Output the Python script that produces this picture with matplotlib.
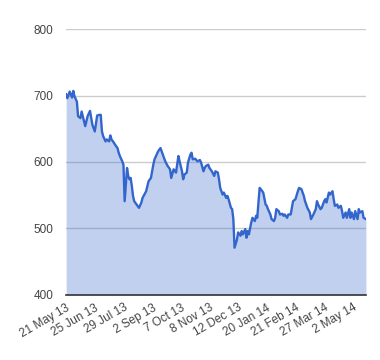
import matplotlib
matplotlib.use("Agg")
import matplotlib.pyplot as plt

# trading-day index (0 = 21 May 13) and closing value
day = [0, 1, 3, 5, 6, 7, 9, 10, 12, 13, 15, 16, 18, 20, 21, 22, 24, 26, 28, 29,
       30, 31, 33, 34, 36, 37, 38, 40, 41, 43, 44, 45, 47, 48, 49, 50, 51, 52, 53, 54,
       55, 56, 57, 59, 61, 63, 64, 67, 69, 71, 73, 74, 77, 79, 81, 83, 85, 87, 88, 90,
       92, 94, 95, 97, 98, 99, 101, 102, 104, 105, 106, 108, 110, 112, 113, 115, 116, 117, 119, 120,
       122, 124, 125, 127, 128, 129, 131, 132, 134, 135, 136, 138, 139, 140, 141, 143, 144, 146, 147, 148,
       150, 151, 152, 153, 155, 156, 158, 159, 160, 162, 163, 165, 167, 168, 169, 171, 172, 174, 175, 176,
       178, 179, 181, 182, 183, 185, 186, 188, 190, 192, 194, 195, 197, 199, 200, 202, 204, 205, 207, 209,
       210, 211, 213, 214, 216, 217, 218, 220, 221, 223, 224, 225, 227, 228, 230, 231, 232, 234, 235, 237,
       238, 239, 241, 242, 244, 245, 246, 248, 249, 251]
price = [702, 696, 706, 697, 707, 699, 691, 669, 666, 676, 661, 654, 669, 677, 666, 656, 646, 670, 671, 671,
         646, 639, 631, 634, 631, 640, 634, 629, 626, 621, 614, 609, 601, 596, 541, 566, 591, 579, 574, 576,
         564, 549, 541, 536, 531, 539, 546, 556, 571, 576, 596, 604, 616, 621, 611, 601, 594, 589, 576, 589,
         584, 609, 601, 586, 574, 581, 584, 599, 611, 614, 604, 605, 601, 603, 599, 586, 591, 594, 596, 591,
         586, 579, 586, 584, 574, 561, 551, 554, 546, 549, 544, 531, 529, 514, 471, 483, 494, 489, 496, 491,
         499, 486, 496, 491, 509, 516, 511, 519, 516, 561, 559, 554, 536, 534, 529, 521, 514, 511, 516, 529,
         526, 521, 522, 519, 521, 516, 521, 521, 541, 544, 556, 561, 559, 549, 541, 531, 524, 514, 521, 529,
         541, 536, 529, 531, 541, 544, 539, 554, 551, 556, 544, 534, 536, 531, 534, 526, 516, 524, 516, 529,
         516, 524, 514, 526, 514, 529, 524, 526, 516, 514]

tick_day = [0, 24, 48, 72, 96, 120, 144, 168, 192, 216, 240]
tick_lab = ["21 May 13", "25 Jun 13", "29 Jul 13", "2 Sep 13", "7 Oct 13", "8 Nov 13",
            "12 Dec 13", "20 Jan 14", "21 Feb 14", "27 Mar 14", "2 May 14"]
y_ticks = [400, 500, 600, 700, 800]

plt.rcParams["font.family"] = ["Liberation Sans", "DejaVu Sans"]

fig = plt.figure(figsize=(3.8, 3.6), dpi=100)
ax = fig.add_axes([0.174, 0.181, 0.789, 0.738])

ax.fill_between(day, price, 400, color="#3366cc", alpha=0.3, linewidth=0)
ax.plot(day, price, color="#3366cc", lw=1.7, solid_joinstyle="round")

ax.set_xlim(0, 251)
ax.set_ylim(400, 800)
ax.set_yticks(y_ticks)
ax.set_xticks(tick_day)
ax.set_xticklabels(tick_lab, rotation=30, ha="right", rotation_mode="anchor")
ax.tick_params(axis="both", length=0, labelsize=8.5, colors="#444444")
ax.tick_params(axis="y", pad=9)
ax.tick_params(axis="x", pad=5)
ax.grid(axis="y", color="#cccccc", lw=1)
ax.set_axisbelow(True)
for s in ["top", "right", "left"]:
    ax.spines[s].set_visible(False)
ax.spines["bottom"].set_color("#333333")
ax.spines["bottom"].set_linewidth(1.2)

fig.savefig("out.png", dpi=100)
